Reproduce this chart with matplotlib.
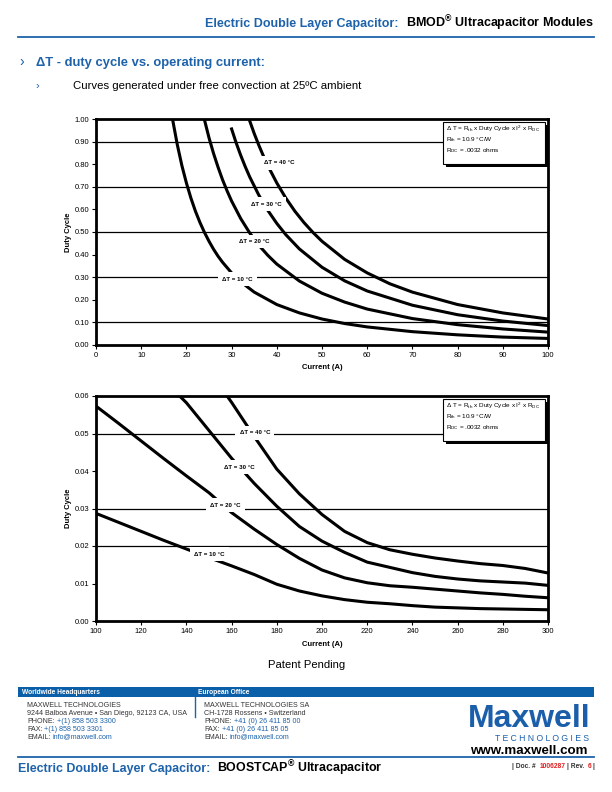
import numpy as np
import matplotlib
matplotlib.use('Agg')
import matplotlib.pyplot as plt
from matplotlib import font_manager
from matplotlib.patches import Rectangle

# ---- data ----
# top chart: duty cycle vs current (A), 0-100 A
i10_a = [17, 18, 19, 20, 21, 22, 23, 24, 25, 26, 27, 28, 30, 32, 35, 40, 45, 50, 55, 60, 70, 80, 90, 100]
d10_a = [0.992, 0.885, 0.794, 0.717, 0.650, 0.592, 0.542, 0.498, 0.459, 0.424, 0.393, 0.366, 0.319, 0.280,
         0.234, 0.179, 0.142, 0.115, 0.095, 0.080, 0.059, 0.045, 0.035, 0.029]
i20_a = [24, 25, 26, 27, 28, 29, 30, 32, 34, 36, 38, 40, 45, 50, 55, 60, 70, 80, 90, 100]
d20_a = [0.996, 0.917, 0.848, 0.787, 0.731, 0.682, 0.637, 0.560, 0.496, 0.442, 0.397, 0.358, 0.283, 0.229,
         0.190, 0.159, 0.117, 0.090, 0.071, 0.057]
i30_a = [30, 31, 32, 33, 34, 36, 38, 40, 42, 45, 50, 55, 60, 70, 80, 90, 100]
d30_a = [0.956, 0.895, 0.840, 0.790, 0.744, 0.664, 0.596, 0.538, 0.488, 0.425, 0.344, 0.284, 0.239, 0.176,
         0.134, 0.106, 0.086]
i40_a = [34, 35, 36, 37, 38, 40, 42, 44, 46, 48, 50, 55, 60, 65, 70, 80, 90, 100]
d40_a = [0.992, 0.936, 0.885, 0.838, 0.794, 0.717, 0.650, 0.592, 0.542, 0.498, 0.459, 0.379, 0.319, 0.271,
         0.234, 0.179, 0.142, 0.115]

# bottom chart: 100-300 A
i10_b = [100, 110, 120, 130, 140, 150, 160, 170, 180, 190, 200, 210, 220, 230, 240, 250, 260, 270, 280, 290, 300]
d10_b = [0.0287, 0.0263, 0.0239, 0.0215, 0.0192, 0.0169, 0.0147, 0.0124, 0.0098, 0.0080, 0.0067, 0.0057,
         0.0050, 0.0046, 0.0041, 0.0037, 0.0035, 0.0033, 0.0032, 0.0031, 0.0030]
i20_b = [100, 110, 120, 130, 140, 150, 160, 170, 180, 190, 200, 210, 220, 230, 240, 250, 260, 270, 280, 290, 300]
d20_b = [0.0573, 0.0527, 0.0480, 0.0433, 0.0387, 0.0342, 0.0289, 0.0245, 0.0204, 0.0167, 0.0136, 0.0115,
         0.0102, 0.0094, 0.0090, 0.0085, 0.0080, 0.0075, 0.0071, 0.0066, 0.0062]
i30_b = [137, 140, 150, 160, 170, 180, 190, 200, 210, 220, 230, 240, 250, 260, 270, 280, 290, 300]
d30_b = [0.0600, 0.0582, 0.0508, 0.0434, 0.0367, 0.0306, 0.0252, 0.0213, 0.0183, 0.0157, 0.0143, 0.0129,
         0.0119, 0.0112, 0.0107, 0.0104, 0.0101, 0.0095]
i40_b = [158, 160, 170, 180, 190, 200, 210, 220, 230, 240, 250, 260, 270, 280, 290, 300]
d40_b = [0.0600, 0.0583, 0.0492, 0.0405, 0.0339, 0.0284, 0.0239, 0.0209, 0.0190, 0.0178, 0.0168, 0.0160,
         0.0153, 0.0148, 0.0140, 0.0128]

curve_labels = ['\u0394T = 10 \u00b0C', '\u0394T = 20 \u00b0C', '\u0394T = 30 \u00b0C', '\u0394T = 40 \u00b0C']
label_pos_a = [(31.3, 0.292), (35.1, 0.457), (37.6, 0.623), (40.6, 0.806)]
label_pos_b = [(150.2, 0.0178), (157.4, 0.0309), (163.6, 0.0410), (170.3, 0.0502)]

W, H = 612, 792
BLUE = '#1d62aa'
GREY = '#333333'

# a narrow face if one is installed, otherwise text is squeezed by size
names = {f.name for f in font_manager.fontManager.ttflist}
NARROW = 'Liberation Sans Narrow' if 'Liberation Sans Narrow' in names else 'Liberation Sans'
ARIAL = 'Liberation Sans'

plt.rcParams['font.family'] = [ARIAL, 'DejaVu Sans']
plt.rcParams['mathtext.default'] = 'regular'

fig = plt.figure(figsize=(W / 100, H / 100), dpi=100)
fig.patch.set_facecolor('white')
rend = fig.canvas.get_renderer()


def fxy(x, y):
    return x / W, 1 - y / H


def runs(x, y, parts, size, family, weight='normal', align='left', fit=None):
    # several coloured pieces on one baseline; fit = wanted total width in px
    objs = []
    for s, c, gap in parts:
        t = fig.text(0, 0, s, fontsize=size, family=family, weight=weight, color=c, va='baseline')
        objs.append((t, gap))

    def measure():
        return [t.get_window_extent(rend).width for t, g in objs]

    widths = measure()
    total = sum(widths) + sum(g for t, g in objs)
    if fit:
        k = (fit - sum(g for t, g in objs)) / sum(widths)
        for t, g in objs:
            t.set_fontsize(size * k)
        widths = measure()
        total = sum(widths) + sum(g for t, g in objs)
    cx = x - total if align == 'right' else x
    for (t, gap), w in zip(objs, widths):
        t.set_position(fxy(cx, y))
        cx += w + gap


def hline(x0, x1, y, lw=1.3, color=BLUE):
    fig.add_artist(plt.Line2D([x0 / W, x1 / W], [1 - y / H, 1 - y / H], color=color, lw=lw))


# ---- page header ----
runs(594, 27, [('Electric Double Layer Capacitor:', BLUE, 7),
               ('BMOD$^{\u00ae}$ Ultracapacitor Modules', 'black', 0)],
     10.5, NARROW, weight='bold', align='right', fit=389)
hline(18, 594, 37)
fig.text(*fxy(19, 66), '\u203a', fontsize=10, color=BLUE, family=NARROW, va='baseline')
runs(36, 66, [('\u0394T - duty cycle vs. operating current:', BLUE, 0)], 10.5, NARROW,
     weight='bold', fit=232)
fig.text(*fxy(36, 89), '\u203a', fontsize=8, color=BLUE, family=NARROW, va='baseline')
runs(73, 89, [('Curves generated under free convection at 25\u00baC ambient', 'black', 0)], 8.3, NARROW,
     fit=288)


def make_chart(ax, curves, lab_pos, xlim, xticks, ylim, yticks, grid, box_top):
    for v in grid:
        ax.axhline(v, color='black', lw=0.9, zorder=1)
    for (xi, yi) in curves:
        ax.plot(xi, yi, color='black', lw=2.2, zorder=3, solid_joinstyle='round')
    for s, (lx, ly) in zip(curve_labels, lab_pos):
        ax.text(lx, ly, s, ha='center', va='center', fontsize=4.4, weight='bold', zorder=4,
                bbox=dict(boxstyle='square,pad=0.7', fc='white', ec='none'))
    ax.set_xlim(*xlim)
    ax.set_ylim(*ylim)
    ax.set_xticks(xticks)
    ax.set_yticks(yticks)
    ax.yaxis.set_major_formatter(matplotlib.ticker.FormatStrFormatter('%.2f'))
    ax.tick_params(direction='out', length=3, width=0.8, labelsize=5.5, pad=2)
    for sp in ax.spines.values():
        sp.set_linewidth(2.0)
    ax.set_xlabel('Current (A)', fontsize=5.5, weight='bold', labelpad=4)
    ax.set_ylabel('Duty Cycle', fontsize=5.5, weight='bold', labelpad=2)

    # formula box in the top right corner, with a drop shadow
    l, b, w, h = ax.get_position().bounds
    px_l, px_r = l * W, (l + w) * W
    px_t, px_b = (1 - b - h) * H, (1 - b) * H

    def ax_xy(x, y):
        return (x - px_l) / (px_r - px_l), (px_b - y) / (px_b - px_t)

    bx0, bx1, by0, by1 = 443, 545, box_top, box_top + 42
    sx, sy = ax_xy(bx0 + 3, by1 + 3)
    ex, ey = ax_xy(bx1 + 3, by0 + 3)
    ax.add_patch(Rectangle((sx, sy), ex - sx, ey - sy, transform=ax.transAxes, fc='black',
                           ec='none', zorder=6, clip_on=False))
    x0, y0 = ax_xy(bx0, by1)
    x1, y1 = ax_xy(bx1, by0)
    ax.add_patch(Rectangle((x0, y0), x1 - x0, y1 - y0, transform=ax.transAxes, fc='white',
                           ec='black', lw=0.8, zorder=7, clip_on=False))
    lines = ['\u0394 T = R$_{th}$ x Duty Cycle x I$^{2}$ x R$_{DC}$',
             'R$_{th}$ = 10.9 \u00b0C/W',
             'R$_{DC}$ = .0032 ohms']
    for k, s in enumerate(lines):
        tx, ty = ax_xy(bx0 + 3, by0 + 9 + k * 10.3)
        ax.text(tx, ty, s, transform=ax.transAxes, fontsize=4.6, va='baseline', zorder=8)


ax1 = fig.add_axes([96 / W, 1 - 345 / H, 452 / W, 226 / H])
make_chart(ax1, [(i10_a, d10_a), (i20_a, d20_a), (i30_a, d30_a), (i40_a, d40_a)], label_pos_a,
           (0, 100), np.arange(0, 101, 10), (0, 1.0), np.arange(0, 1.01, 0.1),
           [0.1, 0.3, 0.5, 0.7, 0.9], 122)

ax2 = fig.add_axes([96 / W, 1 - 621 / H, 452 / W, 225 / H])
make_chart(ax2, [(i10_b, d10_b), (i20_b, d20_b), (i30_b, d30_b), (i40_b, d40_b)], label_pos_b,
           (100, 300), np.arange(100, 301, 20), (0, 0.06), np.arange(0, 0.061, 0.01),
           [0.02, 0.03, 0.05], 399)

runs(268, 668, [('Patent Pending', 'black', 0)], 8.5, NARROW, fit=77)

# ---- footer ----
fig.add_artist(Rectangle((18 / W, 1 - 697 / H), (594 - 18) / W, 10 / H, transform=fig.transFigure,
                         fc='#0a5fa8', ec='none'))
fig.text(*fxy(22, 694.5), 'Worldwide Headquarters', fontsize=4.8, color='white', weight='bold',
         family=NARROW, va='baseline')
fig.text(*fxy(198, 694.5), 'European Office', fontsize=4.8, color='white', weight='bold',
         family=NARROW, va='baseline')
fig.add_artist(plt.Line2D([195 / W, 195 / W], [1 - 697 / H, 1 - 717 / H], color=BLUE, lw=1))

left_block = [[('MAXWELL TECHNOLOGIES', GREY, 0)],
              [('9244 Balboa Avenue \u2022 San Diego, 92123 CA, USA', GREY, 0)],
              [('PHONE:', GREY, 2), ('+(1) 858 503 3300', BLUE, 0)],
              [('FAX:', GREY, 2), ('+(1) 858 503 3301', BLUE, 0)],
              [('EMAIL:', GREY, 2), ('info@maxwell.com', BLUE, 0)]]
right_block = [[('MAXWELL TECHNOLOGIES SA', GREY, 0)],
               [('CH-1728 Rossens \u2022 Switzerland', GREY, 0)],
               [('PHONE:', GREY, 2), ('+41 (0) 26 411 85 00', BLUE, 0)],
               [('FAX:', GREY, 2), ('+41 (0) 26 411 85 05', BLUE, 0)],
               [('EMAIL:', GREY, 2), ('info@maxwell.com', BLUE, 0)]]
for k in range(5):
    runs(27, 707 + k * 7.9, left_block[k], 5.1, NARROW)
    runs(204, 707 + k * 7.9, right_block[k], 5.1, NARROW)

# logo
fig.text(*fxy(590, 727), 'Maxwell', fontsize=23, weight='bold', color='#1b5fab', family=ARIAL,
         ha='right', va='baseline')
fig.text(*fxy(589, 741), 'T E C H N O L O G I E S', fontsize=6.2, color='#1b5fab', family=ARIAL,
         ha='right', va='baseline')
fig.text(*fxy(588, 754), 'www.maxwell.com', fontsize=9.6, weight='bold', color='black', family=ARIAL,
         ha='right', va='baseline')

hline(18, 594, 757)
runs(18, 772, [('Electric Double Layer Capacitor:', BLUE, 7),
               ('BOOSTCAP$^{\u00ae}$ Ultracapacitor', 'black', 0)],
     10.5, NARROW, weight='bold', fit=364)
runs(594, 768, [('| Doc. #', GREY, 3), ('1006287', '#e02020', 2), ('| Rev.', GREY, 3),
                ('6', '#e02020', 1), ('|', GREY, 0)], 4.8, NARROW, weight='bold', align='right')

fig.savefig('out.png', dpi=100, facecolor='white')
